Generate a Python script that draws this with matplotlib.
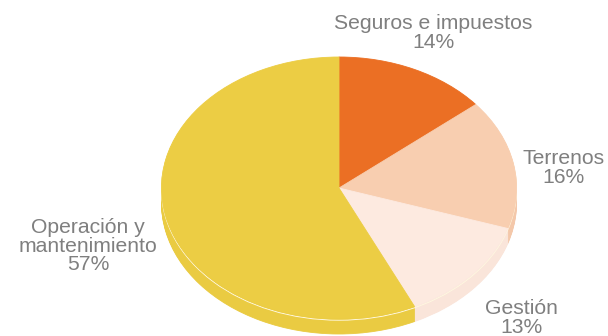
import matplotlib
matplotlib.use("Agg")
import matplotlib.pyplot as plt
from matplotlib.patches import Ellipse

categories = ["Seguros e impuestos", "Terrenos", "Gestión", "Operación y\nmantenimiento"]
values = [14, 16, 13, 57]
colors = ["#EB6F24", "#F8CEB0", "#FDEAE0", "#ECCD44"]
side_colors = ["#E66B20", "#F4C8AA", "#FAE5DA", "#EACB42"]

W, H = 608, 336
fig = plt.figure(figsize=(W / 100, H / 100), dpi=100)
ax = fig.add_axes([0, 0, 1, 1])

cx, cy, rx, ry = 339.0, 188.0, 177.5, 131.0
depth = 15

# side (thickness): stacked copies shifted down
for k in range(depth, 0, -1):
    ax.pie(values, colors=side_colors, startangle=90, counterclock=False,
           center=(0, -k / ry), radius=1,
           wedgeprops=dict(linewidth=0.6, edgecolor=None))
    for w, c in zip(ax.patches[-len(values):], side_colors):
        w.set_edgecolor(c)

# faint light rim where top meets side
rim = Ellipse((0, -1.2 / ry), 2, 2, fill=False, edgecolor="#FFF8E0", linewidth=0.7)
ax.add_patch(rim)

# top face
wedges, _ = ax.pie(values, colors=colors, startangle=90, counterclock=False,
                   center=(0, 0), radius=1, wedgeprops=dict(linewidth=0.6))
for w, c in zip(wedges, colors):
    w.set_edgecolor(c)

ax.set_xlim((0 - cx) / rx, (W - cx) / rx)
ax.set_ylim((cy - H) / ry, cy / ry)
ax.set_aspect("auto")
ax.axis("off")

label_pos = [(433, 33), (564, 168), (521, 318), (88, 246)]
for (px, py), cat, v in zip(label_pos, categories, values):
    fig.text(px / W, 1 - py / H, f"{cat}\n{v}%", ha="center", va="center",
             fontsize=15.2, color="#7F7F7F", family="Liberation Sans",
             linespacing=0.95)

fig.savefig("out.png", dpi=100)
